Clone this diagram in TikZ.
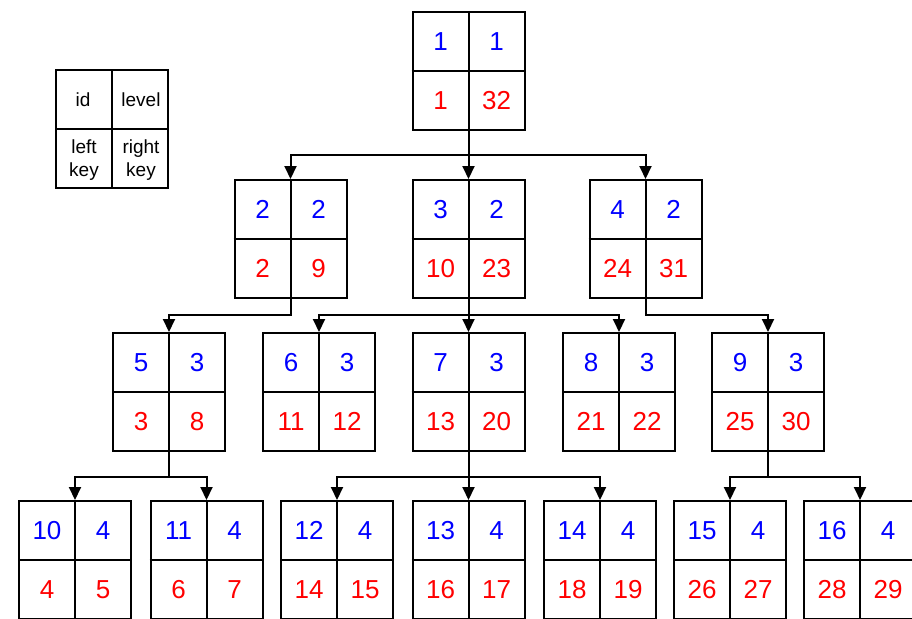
\documentclass[tikz,border=0pt]{standalone}
\usepackage{fontspec}
\setmainfont{Liberation Sans}
\usetikzlibrary{arrows.meta,calc}
\definecolor{KeyBlue}{RGB}{0,0,255}
\definecolor{KeyRed}{RGB}{255,0,0}
\tikzset{
  rec/.style={draw=black,line width=2pt,minimum width=112pt,minimum height=118pt,inner sep=0pt},
  idtxt/.style={text=KeyBlue,font=\fontsize{26}{26}\selectfont},
  keytxt/.style={text=KeyRed,font=\fontsize{26}{26}\selectfont},
  legtxt/.style={font=\fontsize{19}{23}\selectfont,align=center,inner sep=0pt},
  link/.style={draw=black,line width=2pt,-{Triangle[width=12pt,length=13pt]}},
}
% one tree record: name, x, y, id, level, left key, right key
\newcommand{\keyrec}[7]{%
  \node[rec] (#1) at (#2,#3) {};
  \draw[line width=2pt] (#1.north) -- (#1.south) (#1.west) -- (#1.east);
  \node[idtxt] at ($(#1.center)+(-28,-29.5)$) {#4};
  \node[idtxt] at ($(#1.center)+(28,-29.5)$) {#5};
  \node[keytxt] at ($(#1.center)+(-28,29.5)$) {#6};
  \node[keytxt] at ($(#1.center)+(28,29.5)$) {#7};
}

\begin{document}
\begin{tikzpicture}[x=1pt,y=-1pt]
\useasboundingbox (0,0) rectangle (912,618);
% legend
\node[rec] (leg) at (112,129) {};
\draw[line width=2pt] (leg.north) -- (leg.south) (leg.west) -- (leg.east);
\node[legtxt] at (83,100) {id};
\node[legtxt] at (141,100) {level};
\node[legtxt] at (84,160) {left\\key};
\node[legtxt] at (141,160) {right\\key};
% records
\keyrec{n1}{468.5}{71}{1}{1}{1}{32}
\keyrec{n2}{290.5}{239}{2}{2}{2}{9}
\keyrec{n3}{468.5}{239}{3}{2}{10}{23}
\keyrec{n4}{645.5}{239}{4}{2}{24}{31}
\keyrec{n5}{169}{392}{5}{3}{3}{8}
\keyrec{n6}{319}{392}{6}{3}{11}{12}
\keyrec{n7}{468.5}{392}{7}{3}{13}{20}
\keyrec{n8}{619}{392}{8}{3}{21}{22}
\keyrec{n9}{768}{392}{9}{3}{25}{30}
\keyrec{n10}{75}{560}{10}{4}{4}{5}
\keyrec{n11}{206.5}{560}{11}{4}{6}{7}
\keyrec{n12}{337}{560}{12}{4}{14}{15}
\keyrec{n13}{468.5}{560}{13}{4}{16}{17}
\keyrec{n14}{600}{560}{14}{4}{18}{19}
\keyrec{n15}{730}{560}{15}{4}{26}{27}
\keyrec{n16}{860}{560}{16}{4}{28}{29}
% links
\foreach \c in {n2,n3,n4}
  \draw[link] (n1.south) -- ++(0,24) -| (\c.north);
\draw[link] (n2.south) -- ++(0,16) -| (n5.north);
\foreach \c in {n6,n7,n8}
  \draw[link] (n3.south) -- ++(0,16) -| (\c.north);
\draw[link] (n4.south) -- ++(0,16) -| (n9.north);
\foreach \c in {n10,n11}
  \draw[link] (n5.south) -- ++(0,25) -| (\c.north);
\foreach \c in {n12,n13,n14}
  \draw[link] (n7.south) -- ++(0,25) -| (\c.north);
\foreach \c in {n15,n16}
  \draw[link] (n9.south) -- ++(0,25) -| (\c.north);
\end{tikzpicture}
\end{document}
